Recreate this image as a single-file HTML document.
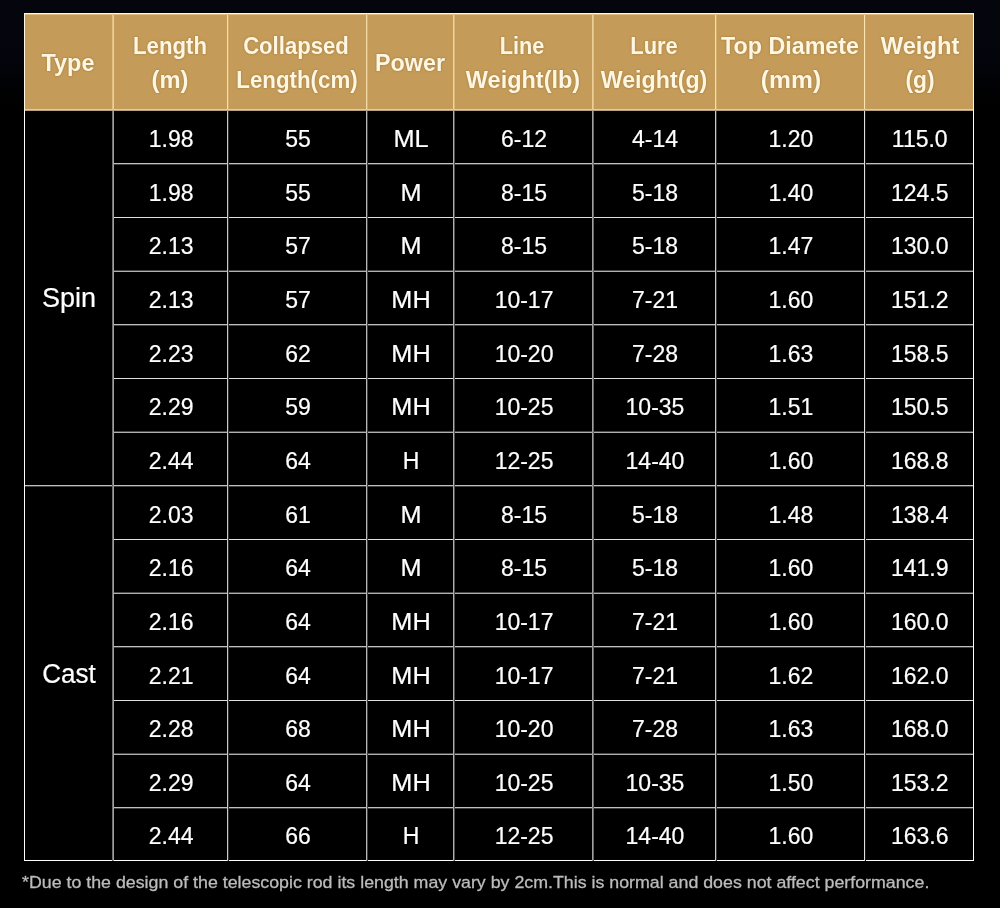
<!DOCTYPE html>
<html lang="en"><head><meta charset="utf-8"><title>Rod specifications</title>
<style>
html,body{margin:0;padding:0}
body{width:1000px;height:908px;position:relative;overflow:hidden;background:#000 linear-gradient(#04050d 0,#04050c 55px,#000 105px,#000 100%);font-family:"Liberation Sans",sans-serif;color:#fff}
#tb{position:absolute;left:24px;top:13px;width:950px;height:848px;background:#000}
#hd{position:absolute;left:24px;top:13px;width:950px;height:97px;background:#c49b59}
i{position:absolute;display:block}
.t{-webkit-text-stroke:.2px #fff;position:absolute;text-align:center;white-space:nowrap;font-size:23px;line-height:30px;height:30px;width:120px}
.p{transform:scaleX(1.1)}
.hh{text-shadow:0 0 2px rgba(110,75,20,.55);position:absolute;text-align:center;white-space:nowrap;font-size:23px;font-weight:bold;color:#fff7e2;line-height:30px;height:30px;width:200px}
.big{font-size:27px}
#fn{position:absolute;left:22px;top:871px;font-size:16.8px;color:#bcbcbc;-webkit-text-stroke:.3px #bcbcbc;white-space:nowrap;line-height:24px;transform:scaleX(1.06);transform-origin:0 50%}
</style></head><body>
<div id="tb"></div><div id="hd"></div>

<i style="left:112px;top:163px;width:862px;height:1px;background:#c0c0c0"></i>
<i style="left:112px;top:164px;width:862px;height:1px;background:#404040"></i>
<i style="left:112px;top:217px;width:862px;height:1px;background:#e0e0e0"></i>
<i style="left:112px;top:270px;width:862px;height:1px;background:#484848"></i>
<i style="left:112px;top:271px;width:862px;height:1px;background:#b0b0b0"></i>
<i style="left:112px;top:324px;width:862px;height:1px;background:#c0c0c0"></i>
<i style="left:112px;top:325px;width:862px;height:1px;background:#404040"></i>
<i style="left:112px;top:378px;width:862px;height:1px;background:#e0e0e0"></i>
<i style="left:112px;top:431px;width:862px;height:1px;background:#484848"></i>
<i style="left:112px;top:432px;width:862px;height:1px;background:#b0b0b0"></i>
<i style="left:24px;top:485px;width:950px;height:1px;background:#c0c0c0"></i>
<i style="left:24px;top:486px;width:950px;height:1px;background:#404040"></i>
<i style="left:112px;top:539px;width:862px;height:1px;background:#e0e0e0"></i>
<i style="left:112px;top:592px;width:862px;height:1px;background:#484848"></i>
<i style="left:112px;top:593px;width:862px;height:1px;background:#b0b0b0"></i>
<i style="left:112px;top:646px;width:862px;height:1px;background:#c0c0c0"></i>
<i style="left:112px;top:647px;width:862px;height:1px;background:#404040"></i>
<i style="left:112px;top:700px;width:862px;height:1px;background:#e0e0e0"></i>
<i style="left:112px;top:753px;width:862px;height:1px;background:#484848"></i>
<i style="left:112px;top:754px;width:862px;height:1px;background:#b0b0b0"></i>
<i style="left:112px;top:807px;width:862px;height:1px;background:#c0c0c0"></i>
<i style="left:112px;top:808px;width:862px;height:1px;background:#404040"></i>
<i style="left:24px;top:860px;width:950px;height:1px;background:#ffffff"></i>
<i style="left:24px;top:13px;width:1px;height:96px;background:#ffe8b4"></i>
<i style="left:24px;top:111px;width:1px;height:750px;background:#ffffff"></i>
<i style="left:112px;top:13px;width:1px;height:96px;background:#e1c085"></i>
<i style="left:112px;top:111px;width:1px;height:750px;background:#707070"></i>
<i style="left:113px;top:13px;width:1px;height:96px;background:#edd098"></i>
<i style="left:113px;top:111px;width:1px;height:750px;background:#a0a0a0"></i>
<i style="left:227px;top:13px;width:1px;height:96px;background:#f7dda8"></i>
<i style="left:227px;top:111px;width:1px;height:750px;background:#c8c8c8"></i>
<i style="left:228px;top:13px;width:1px;height:96px;background:#d0ab6c"></i>
<i style="left:228px;top:111px;width:1px;height:750px;background:#303030"></i>
<i style="left:366px;top:13px;width:1px;height:96px;background:#f3d8a1"></i>
<i style="left:366px;top:111px;width:1px;height:750px;background:#b8b8b8"></i>
<i style="left:367px;top:13px;width:1px;height:96px;background:#d4b072"></i>
<i style="left:367px;top:111px;width:1px;height:750px;background:#404040"></i>
<i style="left:453px;top:13px;width:1px;height:96px;background:#f1d59e"></i>
<i style="left:453px;top:111px;width:1px;height:750px;background:#b0b0b0"></i>
<i style="left:454px;top:13px;width:1px;height:96px;background:#d8b678"></i>
<i style="left:454px;top:111px;width:1px;height:750px;background:#505050"></i>
<i style="left:592px;top:13px;width:1px;height:96px;background:#edd098"></i>
<i style="left:592px;top:111px;width:1px;height:750px;background:#a0a0a0"></i>
<i style="left:593px;top:13px;width:1px;height:96px;background:#debe82"></i>
<i style="left:593px;top:111px;width:1px;height:750px;background:#686868"></i>
<i style="left:715px;top:13px;width:1px;height:96px;background:#f7dda8"></i>
<i style="left:715px;top:111px;width:1px;height:750px;background:#c8c8c8"></i>
<i style="left:716px;top:13px;width:1px;height:96px;background:#d2ae6f"></i>
<i style="left:716px;top:111px;width:1px;height:750px;background:#383838"></i>
<i style="left:864px;top:13px;width:1px;height:96px;background:#fde5b1"></i>
<i style="left:864px;top:111px;width:1px;height:750px;background:#e0e0e0"></i>
<i style="left:865px;top:13px;width:1px;height:96px;background:#caa362"></i>
<i style="left:865px;top:111px;width:1px;height:750px;background:#181818"></i>
<i style="left:973px;top:13px;width:1px;height:96px;background:#ffe8b4"></i>
<i style="left:973px;top:111px;width:1px;height:750px;background:#ffffff"></i>
<i style="left:24px;top:13px;width:950px;height:1px;background:#fff6dc"></i>
<i style="left:25px;top:14px;width:948px;height:1px;background:#dfbe82"></i>
<i style="left:24px;top:109px;width:950px;height:1px;background:#e4cda4"></i>
<i style="left:24px;top:110px;width:950px;height:1px;background:#b4a284"></i>
<i style="left:24px;top:13px;width:1px;height:98px;background:#fff8e4"></i>
<i style="left:973px;top:13px;width:1px;height:98px;background:#fff8e4"></i>
<i style="left:24px;top:111px;width:1px;height:750px;background:#ffffff"></i>
<i style="left:973px;top:111px;width:1px;height:750px;background:#ffffff"></i>
<div class="hh" id="h0_0" style="left:-31.55px;top:48px;transform:scaleX(1.0200)">Type</div>
<div class="hh" id="h1_0" style="left:70.3px;top:31.2px;transform:scaleX(0.9644)">Length</div>
<div class="hh" id="h1_1" style="left:69.9px;top:65.2px;transform:scaleX(1.0303)">(m)</div>
<div class="hh" id="h2_0" style="left:196.2px;top:31.2px;transform:scaleX(0.9617)">Collapsed</div>
<div class="hh" id="h2_1" style="left:197.1px;top:65.2px;transform:scaleX(0.9697)">Length(cm)</div>
<div class="hh" id="h3_0" style="left:309.6px;top:48px;transform:scaleX(1.0134)">Power</div>
<div class="hh" id="h4_0" style="left:422.2px;top:31.2px;transform:scaleX(0.9444)">Line</div>
<div class="hh" id="h4_1" style="left:423.4px;top:65.2px;transform:scaleX(1.0207)">Weight(lb)</div>
<div class="hh" id="h5_0" style="left:554.3px;top:31.2px;transform:scaleX(0.9532)">Lure</div>
<div class="hh" id="h5_1" style="left:554.4px;top:65.2px;transform:scaleX(1.0096)">Weight(g)</div>
<div class="hh" id="h6_0" style="left:690.4px;top:31.2px;transform:scaleX(1.0126)">Top Diamete</div>
<div class="hh" id="h6_1" style="left:690.7px;top:65.2px;transform:scaleX(1.0717)">(mm)</div>
<div class="hh" id="h7_0" style="left:819.9px;top:31.2px;transform:scaleX(1.0320)">Weight</div>
<div class="hh" id="h7_1" style="left:819.7px;top:65.2px;transform:scaleX(0.9926)">(g)</div>
<div class="t big" style="left:9.1px;top:283.48px">Spin</div>
<div class="t big" style="left:9.1px;top:658.63px;transform:scaleX(.965)">Cast</div>
<div class="t" style="left:111.1px;top:123.97px">1.98</div>
<div class="t" style="left:237.95px;top:123.97px">55</div>
<div class="t p" style="left:351px;top:123.97px">ML</div>
<div class="t" style="left:464.05px;top:123.97px">6-12</div>
<div class="t" style="left:595px;top:123.97px">4-14</div>
<div class="t" style="left:730.85px;top:123.97px">1.20</div>
<div class="t" style="left:859.75px;top:123.97px">115.0</div>
<div class="t" style="left:111.1px;top:177.58px">1.98</div>
<div class="t" style="left:237.95px;top:177.58px">55</div>
<div class="t p" style="left:351px;top:177.58px">M</div>
<div class="t" style="left:464.05px;top:177.58px">8-15</div>
<div class="t" style="left:595px;top:177.58px">5-18</div>
<div class="t" style="left:730.85px;top:177.58px">1.40</div>
<div class="t" style="left:859.75px;top:177.58px">124.5</div>
<div class="t" style="left:111.1px;top:231.25px">2.13</div>
<div class="t" style="left:237.95px;top:231.25px">57</div>
<div class="t p" style="left:351px;top:231.25px">M</div>
<div class="t" style="left:464.05px;top:231.25px">8-15</div>
<div class="t" style="left:595px;top:231.25px">5-18</div>
<div class="t" style="left:730.85px;top:231.25px">1.47</div>
<div class="t" style="left:859.75px;top:231.25px">130.0</div>
<div class="t" style="left:111.1px;top:284.92px">2.13</div>
<div class="t" style="left:237.95px;top:284.92px">57</div>
<div class="t p" style="left:351px;top:284.92px">MH</div>
<div class="t" style="left:464.05px;top:284.92px">10-17</div>
<div class="t" style="left:595px;top:284.92px">7-21</div>
<div class="t" style="left:730.85px;top:284.92px">1.60</div>
<div class="t" style="left:859.75px;top:284.92px">151.2</div>
<div class="t" style="left:111.1px;top:338.58px">2.23</div>
<div class="t" style="left:237.95px;top:338.58px">62</div>
<div class="t p" style="left:351px;top:338.58px">MH</div>
<div class="t" style="left:464.05px;top:338.58px">10-20</div>
<div class="t" style="left:595px;top:338.58px">7-28</div>
<div class="t" style="left:730.85px;top:338.58px">1.63</div>
<div class="t" style="left:859.75px;top:338.58px">158.5</div>
<div class="t" style="left:111.1px;top:392.25px">2.29</div>
<div class="t" style="left:237.95px;top:392.25px">59</div>
<div class="t p" style="left:351px;top:392.25px">MH</div>
<div class="t" style="left:464.05px;top:392.25px">10-25</div>
<div class="t" style="left:595px;top:392.25px">10-35</div>
<div class="t" style="left:730.85px;top:392.25px">1.51</div>
<div class="t" style="left:859.75px;top:392.25px">150.5</div>
<div class="t" style="left:111.1px;top:445.92px">2.44</div>
<div class="t" style="left:237.95px;top:445.92px">64</div>
<div class="t" style="left:351px;top:445.92px">H</div>
<div class="t" style="left:464.05px;top:445.92px">12-25</div>
<div class="t" style="left:595px;top:445.92px">14-40</div>
<div class="t" style="left:730.85px;top:445.92px">1.60</div>
<div class="t" style="left:859.75px;top:445.92px">168.8</div>
<div class="t" style="left:111.1px;top:499.59px">2.03</div>
<div class="t" style="left:237.95px;top:499.59px">61</div>
<div class="t p" style="left:351px;top:499.59px">M</div>
<div class="t" style="left:464.05px;top:499.59px">8-15</div>
<div class="t" style="left:595px;top:499.59px">5-18</div>
<div class="t" style="left:730.85px;top:499.59px">1.48</div>
<div class="t" style="left:859.75px;top:499.59px">138.4</div>
<div class="t" style="left:111.1px;top:553.25px">2.16</div>
<div class="t" style="left:237.95px;top:553.25px">64</div>
<div class="t p" style="left:351px;top:553.25px">M</div>
<div class="t" style="left:464.05px;top:553.25px">8-15</div>
<div class="t" style="left:595px;top:553.25px">5-18</div>
<div class="t" style="left:730.85px;top:553.25px">1.60</div>
<div class="t" style="left:859.75px;top:553.25px">141.9</div>
<div class="t" style="left:111.1px;top:606.92px">2.16</div>
<div class="t" style="left:237.95px;top:606.92px">64</div>
<div class="t p" style="left:351px;top:606.92px">MH</div>
<div class="t" style="left:464.05px;top:606.92px">10-17</div>
<div class="t" style="left:595px;top:606.92px">7-21</div>
<div class="t" style="left:730.85px;top:606.92px">1.60</div>
<div class="t" style="left:859.75px;top:606.92px">160.0</div>
<div class="t" style="left:111.1px;top:660.59px">2.21</div>
<div class="t" style="left:237.95px;top:660.59px">64</div>
<div class="t p" style="left:351px;top:660.59px">MH</div>
<div class="t" style="left:464.05px;top:660.59px">10-17</div>
<div class="t" style="left:595px;top:660.59px">7-21</div>
<div class="t" style="left:730.85px;top:660.59px">1.62</div>
<div class="t" style="left:859.75px;top:660.59px">162.0</div>
<div class="t" style="left:111.1px;top:714.25px">2.28</div>
<div class="t" style="left:237.95px;top:714.25px">68</div>
<div class="t p" style="left:351px;top:714.25px">MH</div>
<div class="t" style="left:464.05px;top:714.25px">10-20</div>
<div class="t" style="left:595px;top:714.25px">7-28</div>
<div class="t" style="left:730.85px;top:714.25px">1.63</div>
<div class="t" style="left:859.75px;top:714.25px">168.0</div>
<div class="t" style="left:111.1px;top:767.92px">2.29</div>
<div class="t" style="left:237.95px;top:767.92px">64</div>
<div class="t p" style="left:351px;top:767.92px">MH</div>
<div class="t" style="left:464.05px;top:767.92px">10-25</div>
<div class="t" style="left:595px;top:767.92px">10-35</div>
<div class="t" style="left:730.85px;top:767.92px">1.50</div>
<div class="t" style="left:859.75px;top:767.92px">153.2</div>
<div class="t" style="left:111.1px;top:821.13px">2.44</div>
<div class="t" style="left:237.95px;top:821.13px">66</div>
<div class="t" style="left:351px;top:821.13px">H</div>
<div class="t" style="left:464.05px;top:821.13px">12-25</div>
<div class="t" style="left:595px;top:821.13px">14-40</div>
<div class="t" style="left:730.85px;top:821.13px">1.60</div>
<div class="t" style="left:859.75px;top:821.13px">163.6</div>
<div id="fn">*Due to the design of the telescopic rod its length may vary by 2cm.This is normal and does not affect performance.</div>
</body></html>
